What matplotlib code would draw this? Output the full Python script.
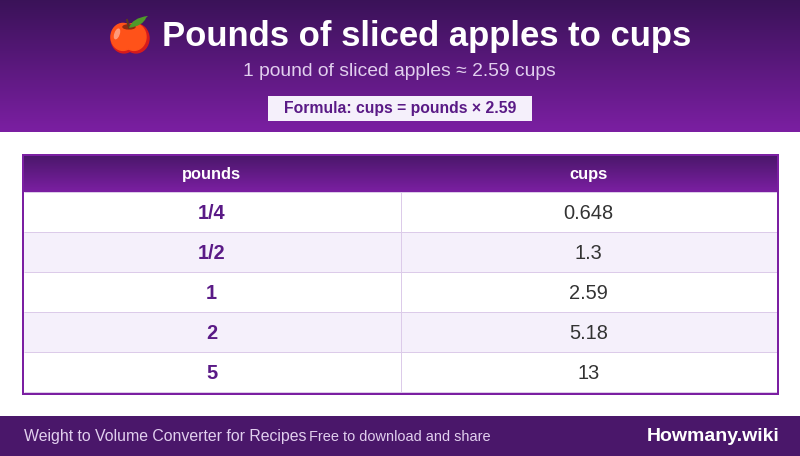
#!/usr/bin/env python
import numpy as np
import matplotlib
matplotlib.use('Agg')
import matplotlib.pyplot as plt
from matplotlib.colors import LinearSegmentedColormap
from matplotlib.patches import Rectangle, Ellipse, PathPatch
from matplotlib.path import Path

plt.rcParams['font.family'] = ['Liberation Sans', 'DejaVu Sans']

title = 'Pounds of sliced apples to cups'
subtitle = '1 pound of sliced apples ≈ 2.59 cups'
formula = 'Formula: cups = pounds × 2.59'
col_names = ['pounds', 'cups']
pounds = ['1/4', '1/2', '1', '2', '5']
cups = ['0.648', '1.3', '2.59', '5.18', '13']
foot_left = 'Weight to Volume Converter for Recipes'
foot_mid = 'Free to download and share'
foot_right = 'Howmany.wiki'

DARK = '#3a1258'
PURPLE = '#7b1fa2'
DEEP = '#4a176a'
TEXT = '#5a1a86'
LINE = '#dccbe9'
ALT = '#f5f0fb'


def px(size):
    return size * 0.72


fig = plt.figure(figsize=(8, 4.561), dpi=100, facecolor='white')
ax = fig.add_axes([0, 0, 1, 1])
ax.set_xlim(0, 800)
ax.set_ylim(456, 0)
ax.axis('off')

grad = LinearSegmentedColormap.from_list('head', [DARK, PURPLE])
ramp = np.linspace(0, 1, 128).reshape(-1, 1)
# header band
ax.imshow(ramp, cmap=grad, extent=(0, 800, 132, 0), aspect='auto', zorder=1)
ax.set_xlim(0, 800)
ax.set_ylim(456, 0)

# apple emoji, no emoji font here so drawn by hand
ax.add_patch(Ellipse((124, 38.5), 26, 29, color='#d81b1b', zorder=3))
ax.add_patch(Ellipse((136, 38.5), 26, 29, color='#d81b1b', zorder=3))
ax.add_patch(Ellipse((123, 37), 24, 27, color='#ff5219', zorder=4))
ax.add_patch(Ellipse((134, 37), 24, 27, color='#ff5219', zorder=4))
ax.add_patch(Ellipse((117, 34), 4, 10, angle=20, color='#ff9a7a', zorder=5))
ax.add_patch(Ellipse((129, 27), 12, 4, color='#8f2a10', zorder=5))
ax.plot([129, 127], [28, 20], color='#5d3a1e', lw=1.4, zorder=6)
leaf = Path([(129, 28), (132, 18), (148, 16), (146, 18), (143, 26), (129, 28)],
            [Path.MOVETO, Path.CURVE3, Path.CURVE3, Path.LINETO, Path.CURVE3, Path.CURVE3])
ax.add_patch(PathPatch(leaf, fc='#4f9a2a', ec='none', zorder=6))

ax.text(426.5, 46, title, color='white', fontsize=px(34.6), fontweight='bold',
        ha='center', va='baseline', zorder=6)
ax.text(399.5, 76, subtitle, color='#e1cfee', fontsize=px(19.3),
        ha='center', va='baseline', zorder=6)
ax.add_patch(Rectangle((268, 96), 264, 25, fc=ALT, ec='none', zorder=5))
ax.text(400, 113, formula, color=TEXT, fontsize=px(15.8), fontweight='bold',
        ha='center', va='baseline', zorder=6)

# table
x_left, x_mid, x_right = 24, 400.5, 777
head_top, head_bot = 156, 192
row_h = 40
ax.imshow(ramp, cmap=LinearSegmentedColormap.from_list('th', [DEEP, PURPLE]),
          extent=(x_left, x_right, head_bot, head_top), aspect='auto', zorder=1)
ax.set_xlim(0, 800)
ax.set_ylim(456, 0)
for name, xc in zip(col_names, [211.5, 588.5]):
    ax.text(xc, 179, name, color='white', fontsize=px(16.5), fontweight='bold',
            ha='center', va='baseline', zorder=6)

for i, (p, c) in enumerate(zip(pounds, cups)):
    top = head_bot + i * row_h
    fc = ALT if i % 2 else 'white'
    ax.add_patch(Rectangle((x_left, top), x_right - x_left, row_h, fc=fc, ec='none', zorder=2))
    ax.plot([x_left, x_right], [top + row_h + 0.5] * 2, color=LINE, lw=0.72, zorder=3,
            solid_capstyle='butt')
    ax.plot([x_mid, x_mid], [top, top + row_h], color=LINE, lw=0.72, zorder=3,
            solid_capstyle='butt')
    base = top + 27
    ax.text(211.5, base, p, color=TEXT, fontsize=px(20), fontweight='bold',
            ha='center', va='baseline', zorder=6)
    ax.text(588.5, base, c, color='#333333', fontsize=px(20),
            ha='center', va='baseline', zorder=6)
ax.plot([x_left, x_right], [head_bot + 0.5] * 2, color=LINE, lw=0.72, zorder=3, solid_capstyle='butt')
ax.add_patch(Rectangle((23, 155), 755, 239, fc='none', ec=PURPLE, lw=1.44, zorder=5))

# footer
ax.add_patch(Rectangle((0, 416), 800, 40, fc=DEEP, ec='none', zorder=2))
ax.text(24, 441, foot_left, color='#e1cfee', fontsize=px(15.9),
        ha='left', va='baseline', zorder=6)
ax.text(309, 441, foot_mid, color='#e1cfee', fontsize=px(14.5),
        ha='left', va='baseline', zorder=6)
ax.text(779, 441, foot_right, color='white', fontsize=px(19.5), fontweight='bold',
        ha='right', va='baseline', zorder=6)

fig.savefig('out.png', dpi=100)
